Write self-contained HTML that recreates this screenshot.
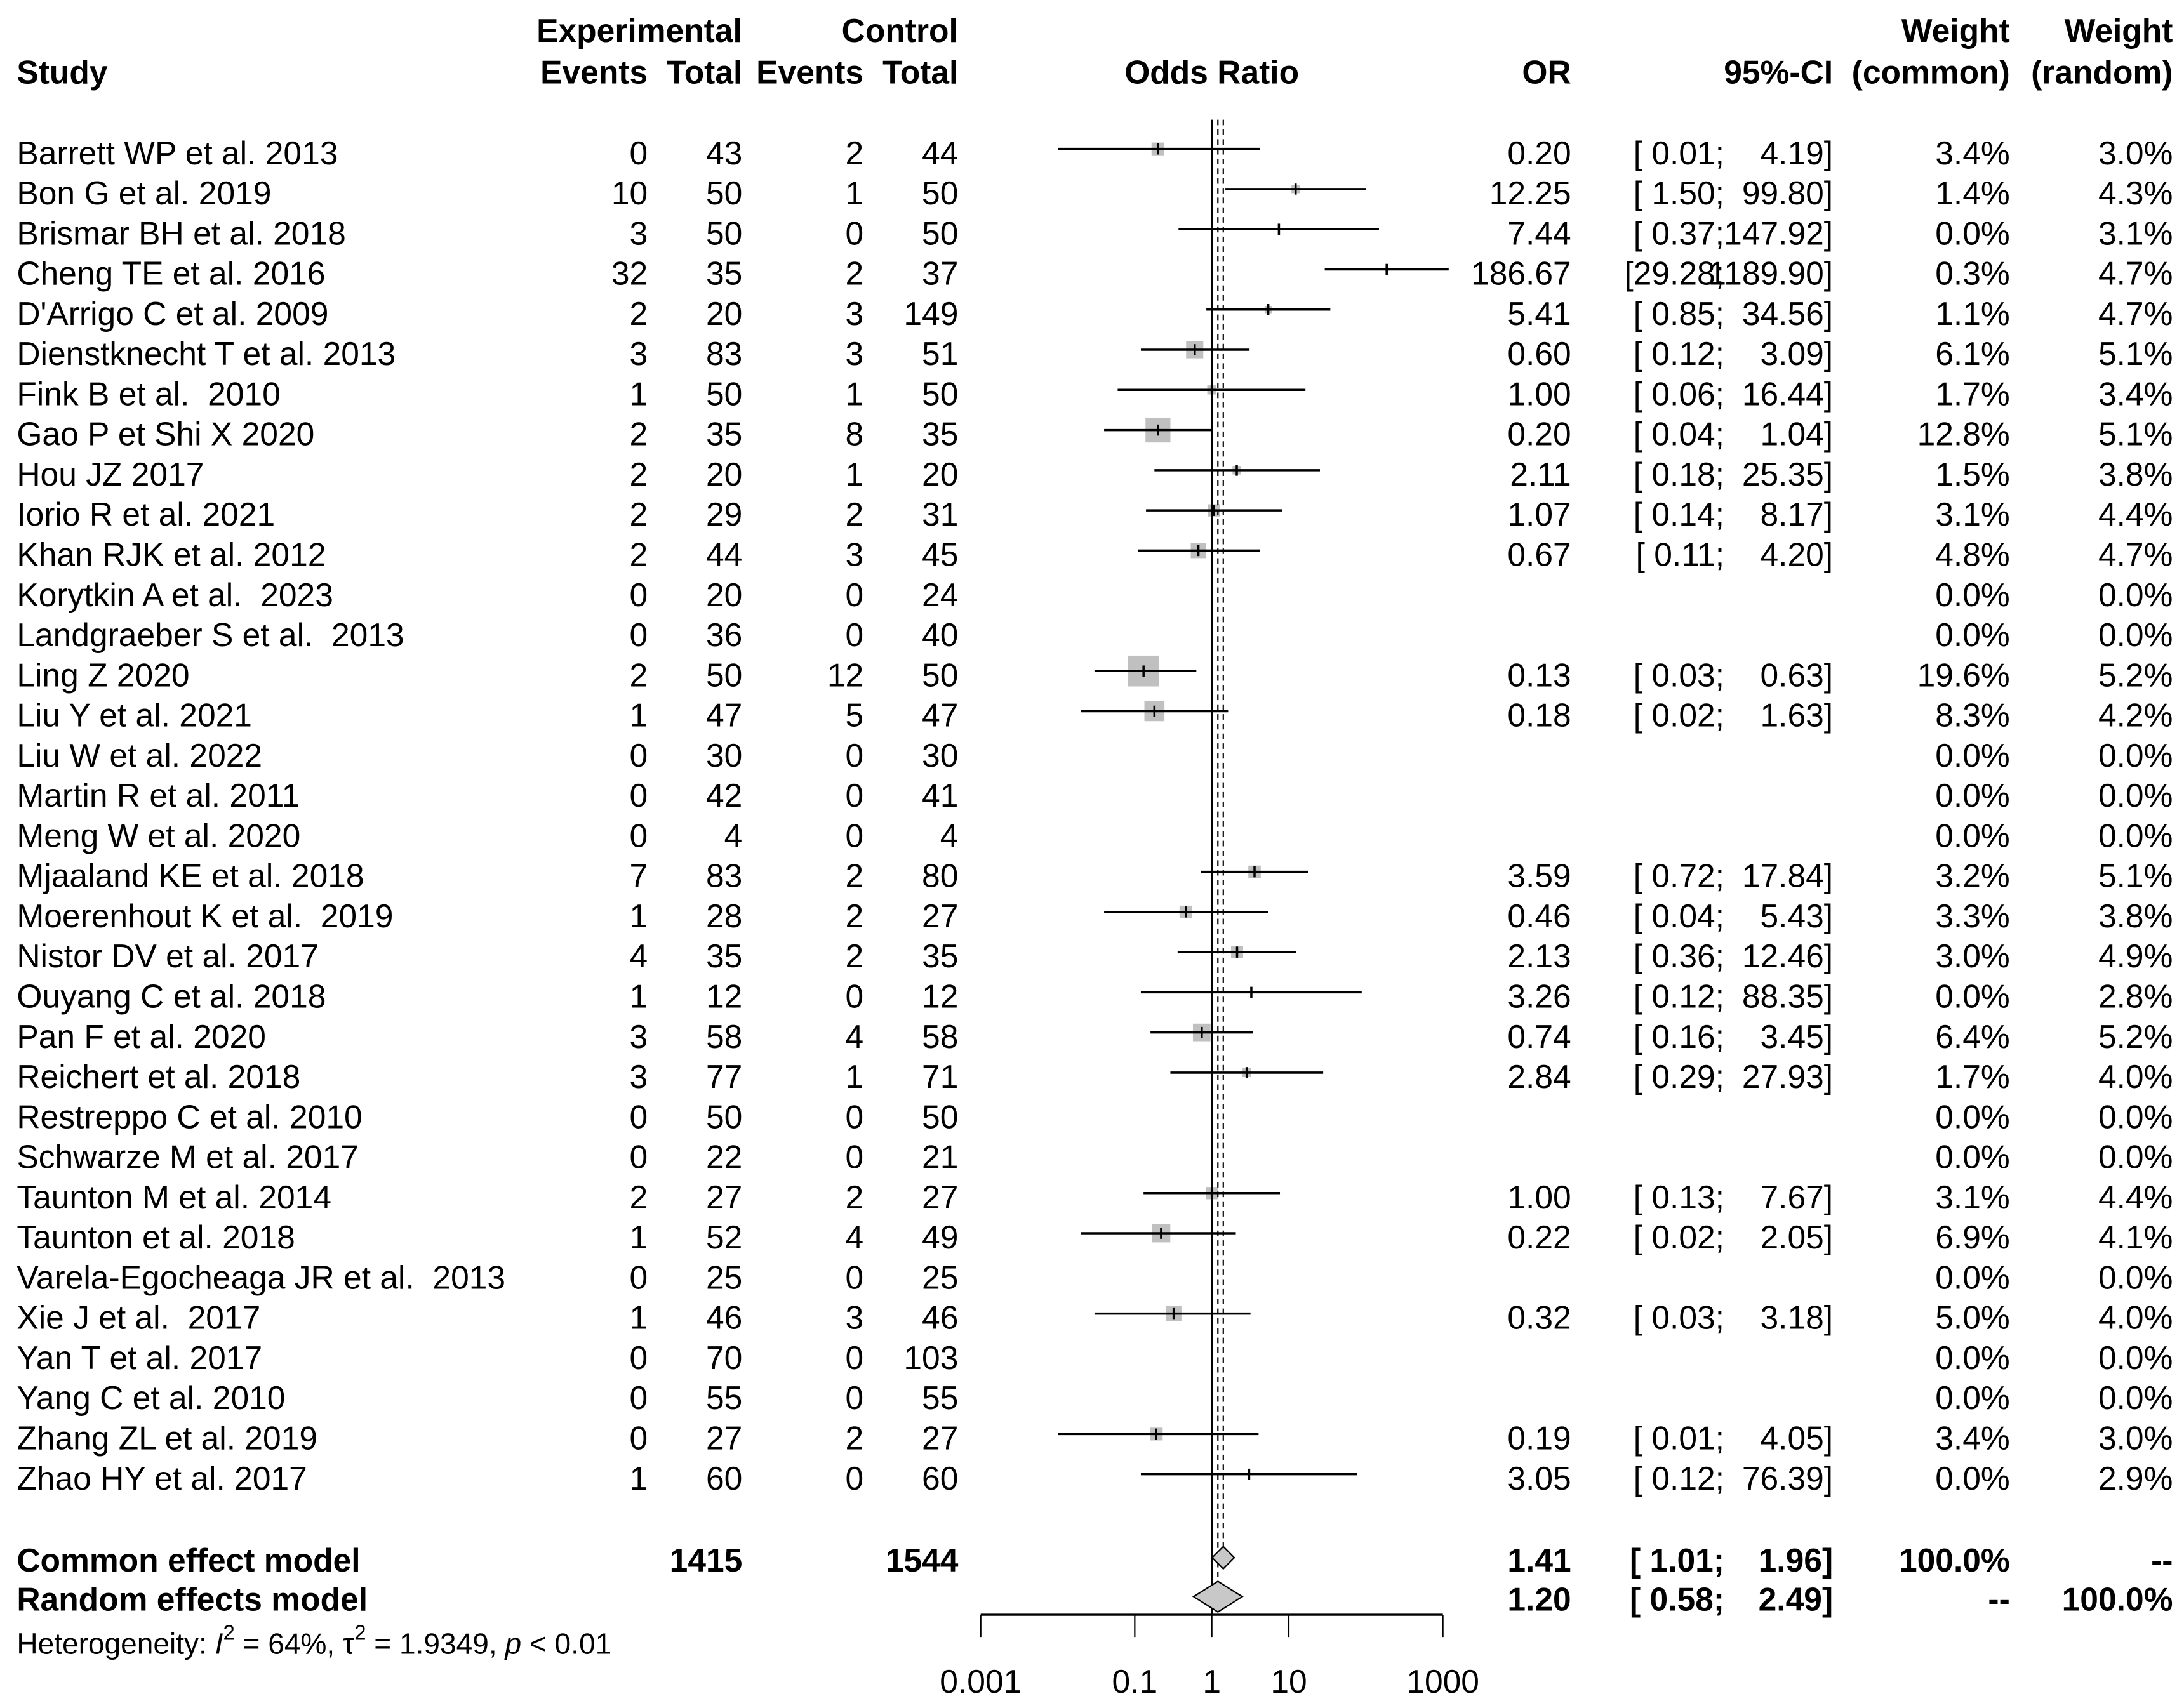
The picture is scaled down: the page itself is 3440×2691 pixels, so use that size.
<!DOCTYPE html>
<html><head><meta charset="utf-8"><style>
html,body{margin:0;padding:0;background:#fff;}
svg{display:block;font-family:"Liberation Sans",Arial,sans-serif;}
</style></head><body>
<svg id="chart" width="3440" height="2691" viewBox="0 0 1568 1227" preserveAspectRatio="none" xmlns="http://www.w3.org/2000/svg">
<g font-weight="bold" font-size="23.5" fill="#000">
<text x="459" y="30" text-anchor="middle">Experimental</text>
<text x="646" y="30" text-anchor="middle">Control</text>
<text x="1443" y="30" text-anchor="end">Weight</text>
<text x="1560" y="30" text-anchor="end">Weight</text>
<text x="12" y="60">Study</text>
<text x="465" y="60" text-anchor="end">Events</text>
<text x="533" y="60" text-anchor="end">Total</text>
<text x="620" y="60" text-anchor="end">Events</text>
<text x="688" y="60" text-anchor="end">Total</text>
<text x="870" y="60" text-anchor="middle">Odds Ratio</text>
<text x="1128" y="60" text-anchor="end">OR</text>
<text x="1316" y="60" text-anchor="end">95%-CI</text>
<text x="1443" y="60" text-anchor="end">(common)</text>
<text x="1560" y="60" text-anchor="end">(random)</text>
</g>
<g id="rows"></g>
<g id="plot"></g>
</svg>
<script>
const studies=["Barrett WP et al. 2013","Bon G et al. 2019","Brismar BH et al. 2018","Cheng TE et al. 2016","D'Arrigo C et al. 2009","Dienstknecht T et al. 2013","Fink B et al.  2010","Gao P et Shi X 2020","Hou JZ 2017","Iorio R et al. 2021","Khan RJK et al. 2012","Korytkin A et al.  2023","Landgraeber S et al.  2013","Ling Z 2020","Liu Y et al. 2021","Liu W et al. 2022","Martin R et al. 2011","Meng W et al. 2020","Mjaaland KE et al. 2018","Moerenhout K et al.  2019","Nistor DV et al. 2017","Ouyang C et al. 2018","Pan F et al. 2020","Reichert et al. 2018","Restreppo C et al. 2010","Schwarze M et al. 2017","Taunton M et al. 2014","Taunton et al. 2018","Varela-Egocheaga JR et al.  2013","Xie J et al.  2017","Yan T et al. 2017","Yang C et al. 2010","Zhang ZL et al. 2019","Zhao HY et al. 2017"];
const expEvents=[0,10,3,32,2,3,1,2,2,2,2,0,0,2,1,0,0,0,7,1,4,1,3,3,0,0,2,1,0,1,0,0,0,1];
const expTotal=[43,50,50,35,20,83,50,35,20,29,44,20,36,50,47,30,42,4,83,28,35,12,58,77,50,22,27,52,25,46,70,55,27,60];
const ctlEvents=[2,1,0,2,3,3,1,8,1,2,3,0,0,12,5,0,0,0,2,2,2,0,4,1,0,0,2,4,0,3,0,0,2,0];
const ctlTotal=[44,50,50,37,149,51,50,35,20,31,45,24,40,50,47,30,41,4,80,27,35,12,58,71,50,21,27,49,25,46,103,55,27,60];
const orVals=[0.20,12.25,7.44,186.67,5.41,0.60,1.00,0.20,2.11,1.07,0.67,null,null,0.13,0.18,null,null,null,3.59,0.46,2.13,3.26,0.74,2.84,null,null,1.00,0.22,null,0.32,null,null,0.19,3.05];
const ciLow=[0.01,1.50,0.37,29.28,0.85,0.12,0.06,0.04,0.18,0.14,0.11,null,null,0.03,0.02,null,null,null,0.72,0.04,0.36,0.12,0.16,0.29,null,null,0.13,0.02,null,0.03,null,null,0.01,0.12];
const ciHigh=[4.19,99.80,147.92,1189.90,34.56,3.09,16.44,1.04,25.35,8.17,4.20,null,null,0.63,1.63,null,null,null,17.84,5.43,12.46,88.35,3.45,27.93,null,null,7.67,2.05,null,3.18,null,null,4.05,76.39];
const wCommon=[3.4,1.4,0.0,0.3,1.1,6.1,1.7,12.8,1.5,3.1,4.8,0.0,0.0,19.6,8.3,0.0,0.0,0.0,3.2,3.3,3.0,0.0,6.4,1.7,0.0,0.0,3.1,6.9,0.0,5.0,0.0,0.0,3.4,0.0];
const wRandom=[3.0,4.3,3.1,4.7,4.7,5.1,3.4,5.1,3.8,4.4,4.7,0.0,0.0,5.2,4.2,0.0,0.0,0.0,5.1,3.8,4.9,2.8,5.2,4.0,0.0,0.0,4.4,4.1,0.0,4.0,0.0,0.0,3.0,2.9];
const pooledOR=[1.41,1.20];
const pooledLow=[1.01,0.58];
const pooledHigh=[1.96,2.49];
const tickVals=[0.001,0.1,1,10,1000];
const tickLabels=["0.001","0.1","1","10","1000"];

const NS="http://www.w3.org/2000/svg";
const xs=v=>870+Math.log10(v)*55.3;
const ys=i=>110+i*28.85;
const rows=document.getElementById('rows'),plot=document.getElementById('plot');
function mk(tag,attrs,parent,txt){const e=document.createElementNS(NS,tag);for(const k in attrs)e.setAttribute(k,attrs[k]);if(txt!==undefined)e.textContent=txt;parent.appendChild(e);return e;}
const f=v=>v.toFixed(2);
const lowStr=v=>'['+(v<10?' ':'')+f(v)+';';
studies.forEach((s,i)=>{
  const y=ys(i)+8;
  const g=mk('g',{'font-size':23.5,fill:'#000'},rows);
  
  
  const cells=[[s,12,'start'],[expEvents[i],465,'end'],[expTotal[i],533,'end'],[ctlEvents[i],620,'end'],[ctlTotal[i],688,'end'],[wCommon[i].toFixed(1)+'%',1443,'end'],[wRandom[i].toFixed(1)+'%',1560,'end']];
  if(orVals[i]!==null){
    cells.push([f(orVals[i]),1128,'end']);
    cells.push([lowStr(ciLow[i]),1238,'end']);
    cells.push([f(ciHigh[i])+']',1316,'end']);
  }
  cells.forEach(c=>{const t=mk('text',{x:c[1],y:y,'text-anchor':c[2]},g,String(c[0]));
    
    
    t.setAttribute('xml:space','preserve');t.style.whiteSpace='pre';});
  if(orVals[i]!==null){
    const cy=ys(i)-3;
    if(wCommon[i]>0){const sz=Math.sqrt(wCommon[i])*5;
      const b=mk('rect',{x:xs(orVals[i])-sz/2,y:cy-sz/2,width:sz,height:sz,fill:'#c0c0c0'},plot);
      
      }
    const l=mk('line',{x1:xs(ciLow[i]),x2:xs(ciHigh[i]),y1:cy,y2:cy,stroke:'#000','stroke-width':1.6},plot);
    
    
    const t=mk('line',{x1:xs(orVals[i]),x2:xs(orVals[i]),y1:cy-4,y2:cy+4,stroke:'#000','stroke-width':1.6},plot);
    
    
  }
});
let e=mk('line',{x1:870,x2:870,y1:86,y2:1160,stroke:'#000','stroke-width':1.2},plot);


[0,1].forEach(k=>{const x=xs(pooledOR[k]);
  const d=mk('line',{x1:x,x2:x,y1:86,y2:k?1140:1112,stroke:'#000','stroke-width':1,'stroke-dasharray':'4,3'},plot);
  
  });
[[1119,8],[1147,11]].forEach((p,k)=>{
  const cy=p[0],h=p[1];
  const pts=[[xs(pooledLow[k]),cy],[xs(pooledOR[k]),cy-h],[xs(pooledHigh[k]),cy],[xs(pooledOR[k]),cy+h]].map(a=>a.join(',')).join(' ');
  const d=mk('polygon',{points:pts,fill:'#c8c8c8',stroke:'#000','stroke-width':1},plot);
  
  
});
e=mk('line',{x1:xs(tickVals[0]),x2:xs(tickVals[tickVals.length-1]),y1:1160,y2:1160,stroke:'#000','stroke-width':1.5},plot);


tickVals.forEach((v,i)=>{
  const tk=mk('line',{x1:xs(v),x2:xs(v),y1:1160,y2:1176,stroke:'#000','stroke-width':1},plot);
  
  
  const tl=mk('text',{x:xs(v),y:1216,'text-anchor':'middle','font-size':23.5},plot,tickLabels[i]);
  
  
});
const sm=mk('g',{'font-size':23.5,'font-weight':'bold',fill:'#000'},rows);


const sumCells=[["Common effect model",12,1129,'start'],["1415",533,1129,'end'],["1544",688,1129,'end'],[f(pooledOR[0]),1128,1129,'end'],[lowStr(pooledLow[0]),1238,1129,'end'],[f(pooledHigh[0])+']',1316,1129,'end'],["100.0%",1443,1129,'end'],["--",1560,1129,'end'],
["Random effects model",12,1157,'start'],[f(pooledOR[1]),1128,1157,'end'],[lowStr(pooledLow[1]),1238,1157,'end'],[f(pooledHigh[1])+']',1316,1157,'end'],["--",1443,1157,'end'],["100.0%",1560,1157,'end']];
sumCells.forEach(c=>{const t=mk('text',{x:c[1],y:c[2],'text-anchor':c[3]},sm,c[0]);
  
  
  t.style.whiteSpace='pre';});
</script>
<script>
(function(){const svg=document.getElementById('chart');const t=document.createElementNS("http://www.w3.org/2000/svg",'text');
t.setAttribute('x',12);t.setAttribute('y',1188);t.setAttribute('font-size',21);


t.innerHTML='Heterogeneity: <tspan font-style="italic">I</tspan><tspan dy="-10" font-size="15">2</tspan><tspan dy="10"> = 64%, τ</tspan><tspan dy="-10" font-size="15">2</tspan><tspan dy="10"> = 1.9349, </tspan><tspan font-style="italic">p</tspan> &lt; 0.01';
svg.appendChild(t);})();
</script>
</body></html>
